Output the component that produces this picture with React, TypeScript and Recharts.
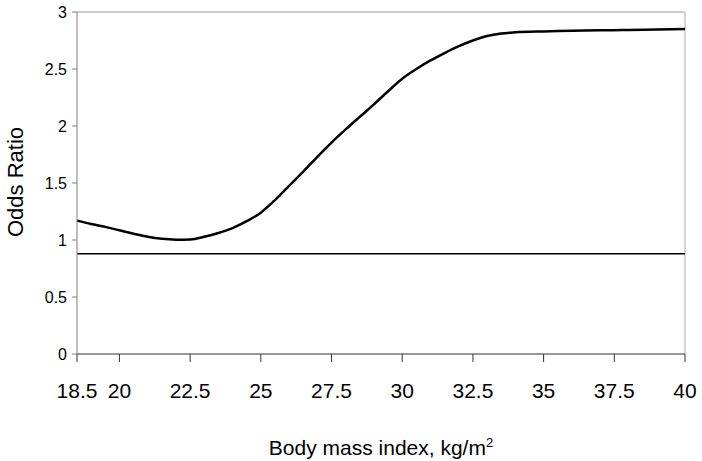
import { LineChart, Line, XAxis, YAxis, ReferenceLine } from "recharts";

const bmi = [
  18.5, 19, 19.5, 20, 20.5, 21, 21.5, 22, 22.5, 23, 23.5, 24, 24.5, 25, 25.5, 26, 26.5, 27, 27.5,
  28, 28.5, 29, 29.5, 30, 30.5, 31, 31.5, 32, 32.5, 33, 33.5, 34, 35, 36, 37, 38, 39, 40,
];
const oddsRatio = [
  1.17, 1.14, 1.115, 1.085, 1.055, 1.028, 1.01, 1.003, 1.005, 1.028, 1.062, 1.105, 1.165, 1.24, 1.35,
  1.475, 1.6, 1.73, 1.855, 1.97, 2.08, 2.19, 2.305, 2.415, 2.5, 2.575, 2.64, 2.7, 2.75, 2.79, 2.812,
  2.822, 2.83, 2.835, 2.84, 2.842, 2.846, 2.85,
];
const xTicks = [18.5, 20, 22.5, 25, 27.5, 30, 32.5, 35, 37.5, 40];
const yTicks = [0, 0.5, 1, 1.5, 2, 2.5, 3];
const referenceOR = 0.88;

const data = bmi.map((b, i) => ({ bmi: b, or: oddsRatio[i] }));

const FONT = "'Liberation Sans', Arial, sans-serif";

function XTitle({ viewBox }: any) {
  const cx = viewBox.x + viewBox.width / 2;
  return (
    <text x={cx} y={455} textAnchor="middle" fontFamily={FONT} fontSize={21} fill="#000">
      Body mass index, kg/m
      <tspan fontSize={13} dy={-8}>2</tspan>
    </text>
  );
}

function YTitle() {
  return (
    <text
      x={23}
      y={182}
      transform="rotate(-90 23 182)"
      textAnchor="middle"
      fontFamily={FONT}
      fontSize={22}
      fill="#000"
    >
      Odds Ratio
    </text>
  );
}

export default function App() {
  return (
    <div style={{ position: "absolute", left: 0, top: 0, background: "#fff" }}>
      <LineChart width={702} height={461} data={data} margin={{ top: 12, right: 17, left: 0, bottom: 0 }}>
        <XAxis
          dataKey="bmi"
          type="number"
          domain={[18.5, 40]}
          ticks={xTicks}
          interval={0}
          height={107}
          tickSize={8}
          tickMargin={21}
          stroke="#333"
          tick={{ fill: "#000", fontSize: 21, fontFamily: FONT }}
          label={<XTitle />}
        />
        <YAxis
          type="number"
          domain={[0, 3]}
          ticks={yTicks}
          width={77}
          tickSize={5}
          tickMargin={5}
          stroke="#808080"
          tick={{ fill: "#000", fontSize: 16, fontFamily: FONT }}
          label={<YTitle />}
        />
        <ReferenceLine y={3} stroke="#999" strokeWidth={1} />
        <ReferenceLine x={40} stroke="#c8c8c8" strokeWidth={1.5} />
        <ReferenceLine y={referenceOR} stroke="#000" strokeWidth={1.5} />
        <Line
          type="monotone"
          dataKey="or"
          stroke="#000"
          strokeWidth={2.5}
          dot={false}
          isAnimationActive={false}
        />
      </LineChart>
    </div>
  );
}
